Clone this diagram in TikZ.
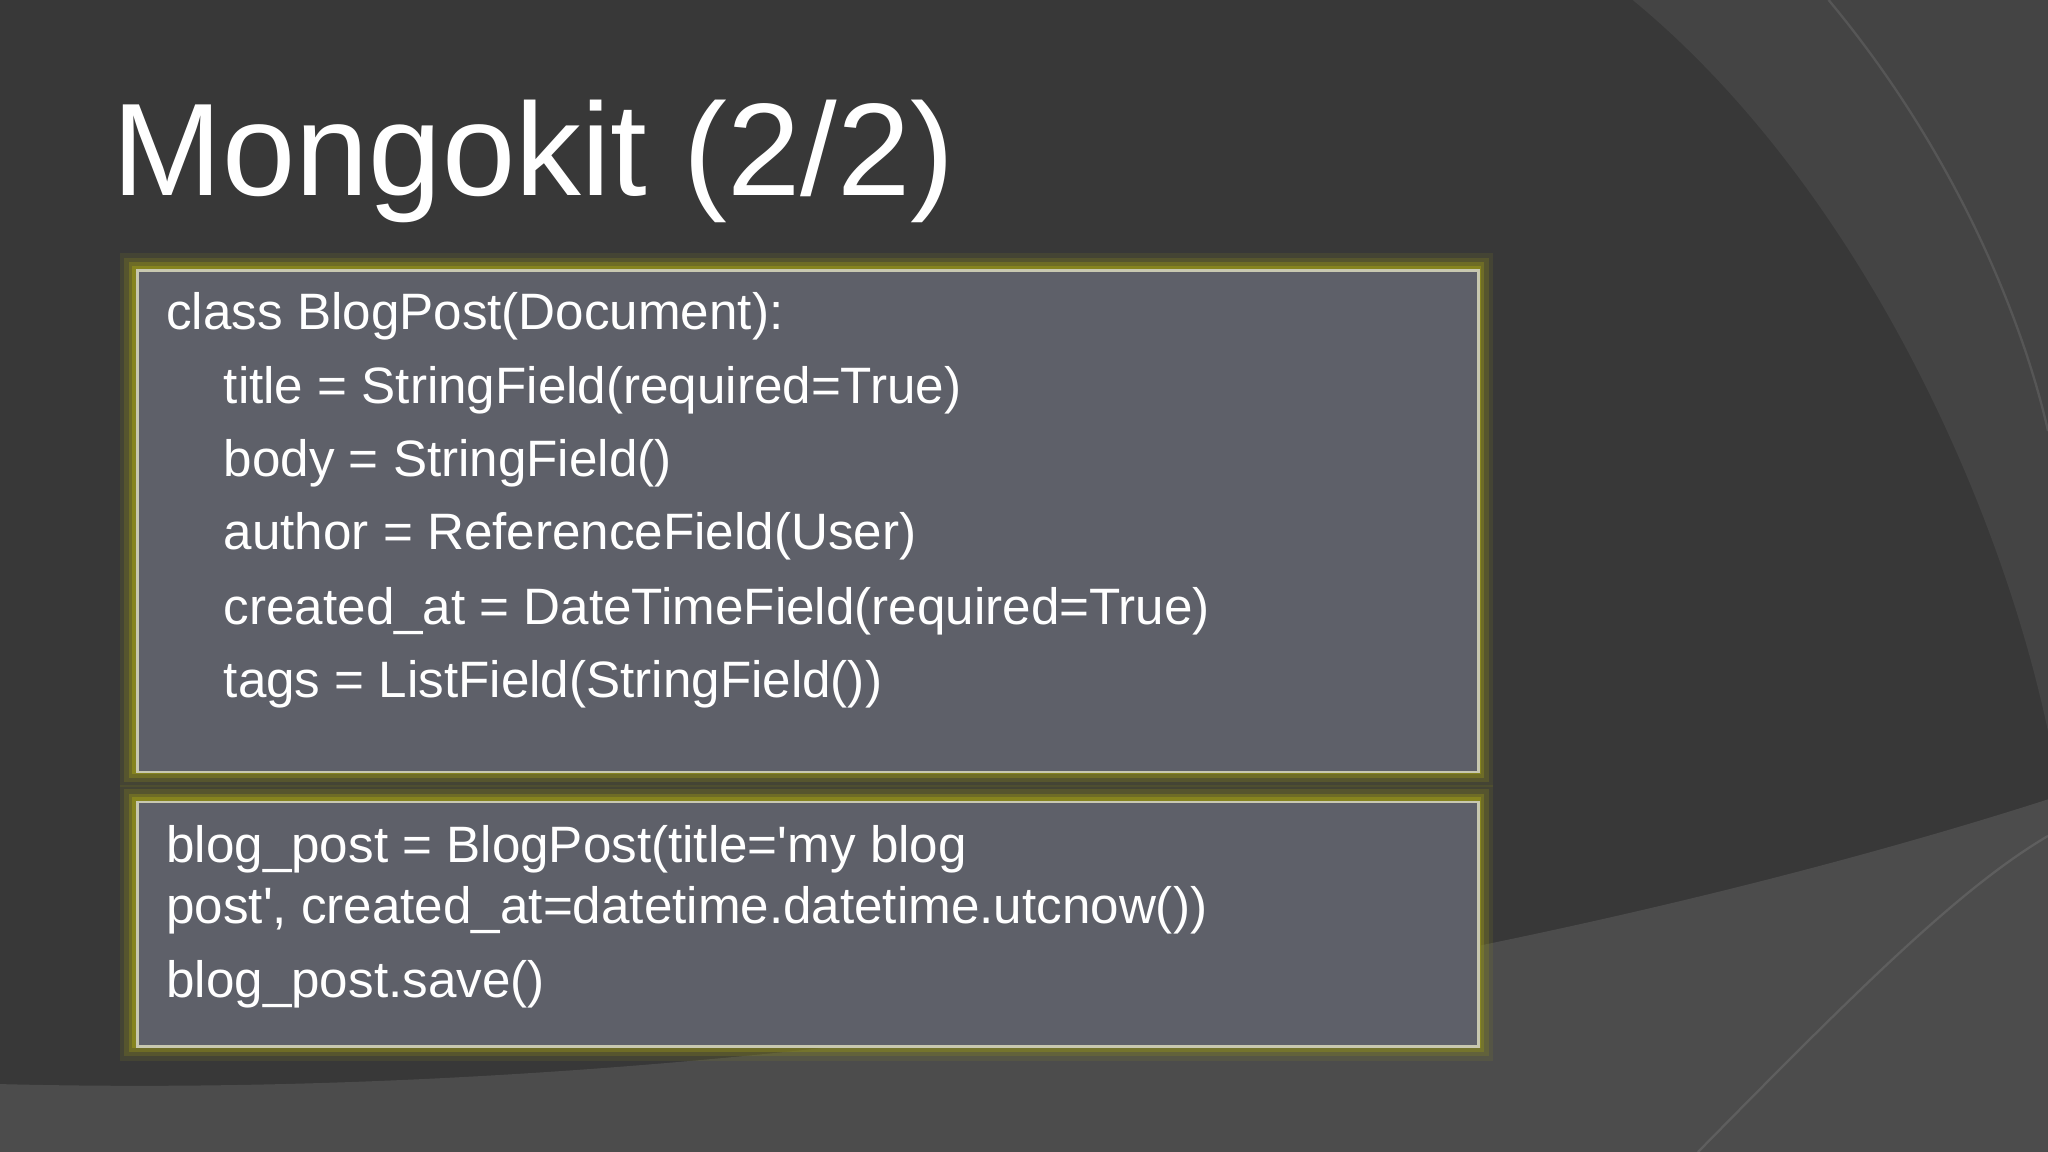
\documentclass[tikz,border=0pt]{standalone}
\usepackage{fontspec}
\setmainfont{Liberation Sans}
\definecolor{bg}{HTML}{383838}
\definecolor{bgl}{HTML}{444444}
\definecolor{band}{HTML}{4C4C4C}
\definecolor{boxfill}{HTML}{5E6069}
\definecolor{glow}{HTML}{8C8A1E}
\definecolor{rim}{HTML}{C8C8B0}
\tikzset{
  codebox/.style={fill=boxfill, draw=rim, line width=1.2pt},
  code/.style={anchor=base west, text=white, font=\fontsize{22.3pt}{26pt}\selectfont, inner sep=0pt},
}
\begin{document}
\begin{tikzpicture}[x=0.02cm,y=-0.02cm]
\useasboundingbox (0,0) rectangle (1568,882);
\fill[bg] (0,0) rectangle (1568,882);
\fill[bgl] (1250,0) .. controls (1420,140) and (1530,380) .. (1568,560) -- (1568,0) -- cycle;
\draw[bgl!80!white, opacity=0.5, line width=1pt] (1400,0) .. controls (1500,120) and (1550,250) .. (1568,330);
\fill[band] (0,830) .. controls (600,845) and (1200,730) .. (1568,612) -- (1568,882) -- (0,882) -- cycle;
\draw[band!80!white, opacity=0.5, line width=1pt] (1300,882) .. controls (1420,760) and (1500,680) .. (1568,640);
\node[anchor=base west, text=white, inner sep=0pt, font=\fontsize{57.4pt}{66pt}\selectfont] (title) at (86,150) {Mongokit (2/2)};
% glow
\foreach \w/\o in {14/0.15,10/0.25,6/0.45,3/0.8}{
  \draw[glow, line width=\w pt, opacity=\o] (104,206) rectangle (1131,590);
  \draw[glow, line width=\w pt, opacity=\o] (104,613) rectangle (1131,800);
}
\node[codebox, minimum width=20.54cm, minimum height=7.68cm, anchor=north west] (box1) at (104,206) {};
\node[codebox, minimum width=20.54cm, minimum height=3.74cm, anchor=north west] (box2) at (104,613) {};
\node[code] (l1) at (127,252) {class BlogPost(Document):};
\node[code] (l2) at (171,309) {title = StringField(required=True)};
\node[code] (l3) at (171,365) {body = StringField()};
\node[code] (l4) at (171,421) {author = ReferenceField(User)};
\node[code] (l5) at (171,478) {created\_at = DateTimeField(required=True)};
\node[code] (l6) at (171,534) {tags = ListField(StringField())};
\node[code] (m1) at (127,660) {blog\_post = BlogPost(title=\textquotesingle my blog};
\node[code] (m2) at (127,707) {post\textquotesingle, created\_at=datetime.datetime.utcnow())};
\node[code] (m3) at (127,764) {blog\_post.save()};
\end{tikzpicture}
\end{document}
